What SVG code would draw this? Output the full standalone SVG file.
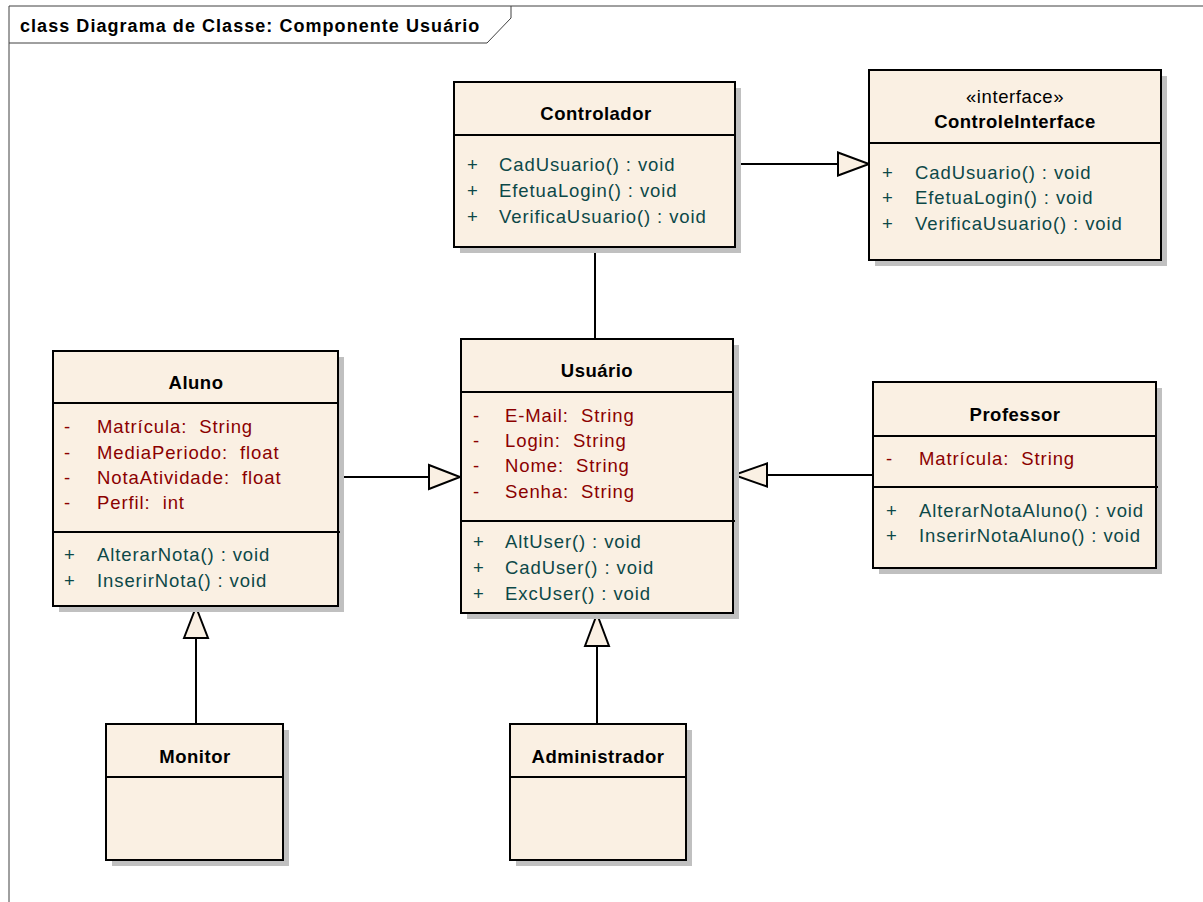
<svg xmlns="http://www.w3.org/2000/svg" width="1203" height="902" viewBox="0 0 1203 902">
  <style>
    .frame { fill: none; stroke: #404040; stroke-width: 1; }
    .shadow { fill: #c0c0c0; }
    .box { fill: #faf0e3; stroke: #000; stroke-width: 2; }
    .sep { stroke: #000; stroke-width: 2; }
    .edge { fill: none; stroke: #000; stroke-width: 2; }
    .head { fill: #faf0e3; stroke: #000; stroke-width: 2; stroke-linejoin: miter; }
    text { font-family: "Liberation Sans", Arial, sans-serif; font-size: 18.5px; white-space: pre; }
    .title { font-weight: bold; letter-spacing: 0.5px; text-anchor: middle; fill: #000; }
    .stereo { letter-spacing: 0.6px; text-anchor: middle; fill: #000; }
    .frameTitle { font-weight: bold; font-size: 18px; letter-spacing: 1.05px; fill: #000; }
    .attr { fill: #8b0000; letter-spacing: 0.9px; }
    .op { fill: #0c4848; letter-spacing: 0.9px; }
  </style>

  <!-- diagram frame with name tab -->
  <g id="frame">
    <path class="frame" d="M9,902 V6 H1203"/>
    <path class="frame" d="M9,43 H487 L511,18 V6"/>
    <text class="frameTitle" x="20" y="32">class Diagrama de Classe: Componente Usuário</text>
  </g>

  <!-- connectors -->
  <g id="connectors">
    <!-- Controlador realizes ControleInterface -->
    <line class="edge" x1="735" y1="164" x2="838" y2="164"/>
    <polygon class="head" points="838,152.5 869,164 838,175.5"/>
    <!-- Controlador - Usuário association -->
    <line class="edge" x1="595" y1="247" x2="595" y2="339"/>
    <!-- Aluno generalizes to Usuário -->
    <line class="edge" x1="338" y1="477" x2="429" y2="477"/>
    <polygon class="head" points="429,465 460,477 429,489"/>
    <!-- Professor generalizes to Usuário -->
    <line class="edge" x1="767" y1="475" x2="873" y2="475"/>
    <polygon class="head" points="767,463.5 734,475 767,486.5"/>
    <!-- Monitor generalizes to Aluno -->
    <line class="edge" x1="196" y1="638" x2="196" y2="724"/>
    <polygon class="head" points="184,638 196,607 208,638"/>
    <!-- Administrador generalizes to Usuário -->
    <line class="edge" x1="597" y1="646" x2="597" y2="724"/>
    <polygon class="head" points="585,646 597,614 609,646"/>
  </g>

  <!-- Controlador -->
  <g id="controlador">
    <rect class="shadow" x="460" y="88" width="281" height="165"/>
    <rect class="box" x="454" y="82" width="281" height="165"/>
    <line class="sep" x1="454" y1="135" x2="735" y2="135"/>
    <text class="title" x="596" y="120">Controlador</text>
    <text class="op" x="467" y="171">+</text><text class="op" x="499" y="171">CadUsuario() : void</text>
    <text class="op" x="467" y="197">+</text><text class="op" x="499" y="197">EfetuaLogin() : void</text>
    <text class="op" x="467" y="223">+</text><text class="op" x="499" y="223">VerificaUsuario() : void</text>
  </g>

  <!-- ControleInterface -->
  <g id="controleInterface">
    <rect class="shadow" x="875" y="76" width="292" height="190"/>
    <rect class="box" x="869" y="70" width="292" height="190"/>
    <line class="sep" x1="869" y1="143" x2="1161" y2="143"/>
    <text class="stereo" x="1015" y="103">«interface»</text>
    <text class="title" x="1015" y="128">ControleInterface</text>
    <text class="op" x="882" y="179">+</text><text class="op" x="915" y="179">CadUsuario() : void</text>
    <text class="op" x="882" y="204">+</text><text class="op" x="915" y="204">EfetuaLogin() : void</text>
    <text class="op" x="882" y="230">+</text><text class="op" x="915" y="230">VerificaUsuario() : void</text>
  </g>

  <!-- Aluno -->
  <g id="aluno">
    <rect class="shadow" x="59" y="357" width="285" height="255"/>
    <rect class="box" x="53" y="351" width="285" height="255"/>
    <line class="sep" x1="53" y1="403" x2="338" y2="403"/>
    <line class="sep" x1="53" y1="532" x2="340" y2="532"/>
    <text class="title" x="196" y="389">Aluno</text>
    <text class="attr" x="64" y="433">-</text><text class="attr" x="97" y="433">Matrícula:  String</text>
    <text class="attr" x="64" y="459">-</text><text class="attr" x="97" y="459">MediaPeriodo:  float</text>
    <text class="attr" x="64" y="484">-</text><text class="attr" x="97" y="484">NotaAtividade:  float</text>
    <text class="attr" x="64" y="509">-</text><text class="attr" x="97" y="509">Perfil:  int</text>
    <text class="op" x="64" y="561">+</text><text class="op" x="97" y="561">AlterarNota() : void</text>
    <text class="op" x="64" y="587">+</text><text class="op" x="97" y="587">InserirNota() : void</text>
  </g>

  <!-- Usuário -->
  <g id="usuario">
    <rect class="shadow" x="467" y="345" width="272" height="274"/>
    <rect class="box" x="461" y="339" width="272" height="274"/>
    <line class="sep" x1="461" y1="392" x2="733" y2="392"/>
    <line class="sep" x1="461" y1="521" x2="735" y2="521"/>
    <text class="title" x="597" y="377">Usuário</text>
    <text class="attr" x="473" y="422">-</text><text class="attr" x="505" y="422">E-Mail:  String</text>
    <text class="attr" x="473" y="447">-</text><text class="attr" x="505" y="447">Login:  String</text>
    <text class="attr" x="473" y="472">-</text><text class="attr" x="505" y="472">Nome:  String</text>
    <text class="attr" x="473" y="498">-</text><text class="attr" x="505" y="498">Senha:  String</text>
    <text class="op" x="473" y="548">+</text><text class="op" x="505" y="548">AltUser() : void</text>
    <text class="op" x="473" y="574">+</text><text class="op" x="505" y="574">CadUser() : void</text>
    <text class="op" x="473" y="600">+</text><text class="op" x="505" y="600">ExcUser() : void</text>
  </g>

  <!-- Professor -->
  <g id="professor">
    <rect class="shadow" x="879" y="388" width="283" height="186"/>
    <rect class="box" x="873" y="382" width="283" height="186"/>
    <line class="sep" x1="873" y1="436" x2="1156" y2="436"/>
    <line class="sep" x1="873" y1="487" x2="1158" y2="487"/>
    <text class="title" x="1015" y="421">Professor</text>
    <text class="attr" x="886" y="465">-</text><text class="attr" x="919" y="465">Matrícula:  String</text>
    <text class="op" x="886" y="517">+</text><text class="op" x="919" y="517">AlterarNotaAluno() : void</text>
    <text class="op" x="886" y="542">+</text><text class="op" x="919" y="542">InserirNotaAluno() : void</text>
  </g>

  <!-- Monitor -->
  <g id="monitor">
    <rect class="shadow" x="112" y="730" width="177" height="136"/>
    <rect class="box" x="106" y="724" width="177" height="136"/>
    <line class="sep" x1="106" y1="777" x2="283" y2="777"/>
    <text class="title" x="195" y="763">Monitor</text>
  </g>

  <!-- Administrador -->
  <g id="administrador">
    <rect class="shadow" x="516" y="730" width="176" height="136"/>
    <rect class="box" x="510" y="724" width="176" height="136"/>
    <line class="sep" x1="510" y1="777" x2="686" y2="777"/>
    <text class="title" x="598" y="763">Administrador</text>
  </g>
</svg>
